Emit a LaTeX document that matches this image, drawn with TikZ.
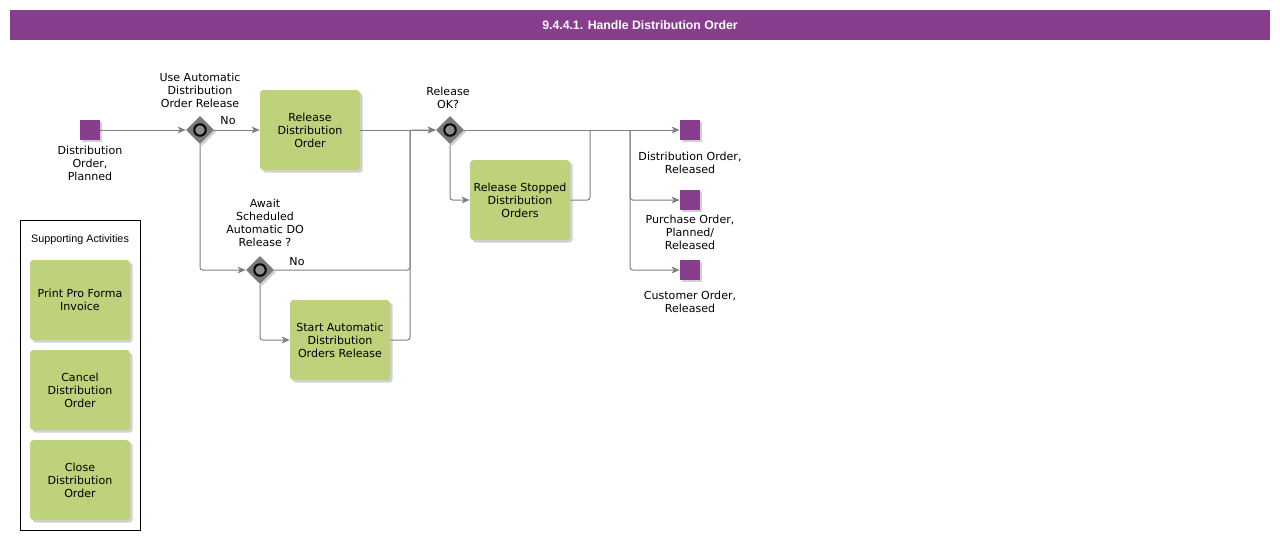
\documentclass[tikz,border=0pt]{standalone}
\usepackage{fontspec}
\setmainfont{DejaVu Sans}
\newfontfamily\arialfont{Liberation Sans}
\usetikzlibrary{shapes.geometric,arrows.meta,shadows}

\definecolor{bpmpurple}{HTML}{873F8D}
\definecolor{taskgreen}{HTML}{BDD27A}
\definecolor{flowgray}{HTML}{7F7F7F}
\definecolor{gategray}{HTML}{7A7A7A}

\tikzstyle{task} = [rectangle, rounded corners=2.5pt, fill=taskgreen, minimum width=75pt, minimum height=60pt, inner sep=0pt, align=center, font=\fontsize{8.3}{9.75}\selectfont, drop shadow={shadow xshift=2pt, shadow yshift=-2pt, fill=black!30, opacity=0.6}]
\tikzstyle{event} = [rectangle, fill=bpmpurple, minimum size=15pt, inner sep=0pt, drop shadow={shadow xshift=1.5pt, shadow yshift=-1.5pt, fill=black!30, opacity=0.6}]
\tikzstyle{gateway} = [diamond, fill=gategray, minimum width=21pt, minimum height=21pt, inner sep=0pt, drop shadow={shadow xshift=1.5pt, shadow yshift=-1.5pt, fill=black!30, opacity=0.6}, path picture={\draw[line width=1.5pt, fill=gategray!85] (path picture bounding box.center) circle (4.3pt);}]
\tikzstyle{lbl} = [align=center, inner sep=0pt, font=\fontsize{8.3}{9.75}\selectfont]
\tikzstyle{flow} = [draw=flowgray, line width=0.75pt, rounded corners=2pt, -{Stealth[length=6pt, width=5pt, inset=1.5pt]}]
\tikzstyle{link} = [draw=flowgray, line width=0.75pt, rounded corners=2pt]

\begin{document}
\begin{tikzpicture}[x=0.75pt, y=-0.75pt]
  \useasboundingbox (0,0) rectangle (1280,540);

  % header
  \node[fill=bpmpurple, minimum width=945pt, minimum height=22.5pt, inner sep=0pt, text=white, font=\arialfont\bfseries\fontsize{9.2}{11}\selectfont] (title) at (640,25) {9.4.4.1. Handle Distribution Order};

  % events
  \node[event] (start) at (90,130) {};
  \node[event] (e1) at (690,130) {};
  \node[event] (e2) at (690,200) {};
  \node[event] (e3) at (690,270) {};

  \node[lbl] (startlbl) at (90,163) {Distribution\\Order,\\Planned};
  \node[lbl] (e1lbl) at (690,162.5) {Distribution Order,\\Released};
  \node[lbl] (e2lbl) at (690,232) {Purchase Order,\\Planned/\\Released};
  \node[lbl] (e3lbl) at (690,301.5) {Customer Order,\\Released};

  % gateways
  \node[gateway] (g1) at (200,130) {};
  \node[gateway] (g2) at (260,270) {};
  \node[gateway] (g3) at (450,130) {};

  \node[lbl] (g1lbl) at (200,90) {Use Automatic\\Distribution\\Order Release};
  \node[lbl] (g2lbl) at (265,222.5) {Await\\Scheduled\\Automatic DO\\Release ?};
  \node[lbl] (g3lbl) at (448,97.5) {Release\\OK?};

  % tasks
  \node[task] (rdo) at (310,130) {Release\\Distribution\\Order};
  \node[task] (sado) at (340,340) {Start Automatic\\Distribution\\Orders Release};
  \node[task] (rsdo) at (520,200) {Release Stopped\\Distribution\\Orders};

  \coordinate (j1) at (410,130);
  \coordinate (j2) at (590,130);
  \coordinate (j3) at (630,130);

  % flows
  \draw[flow] (start) -- (g1);
  \draw[flow] (g1) -- (rdo);
  \node[lbl] (no1) at (228,121) {No};
  \draw[flow] (g1.south) |- (g2.west);
  \draw[flow] (g2.east) -| (j1) -- (g3.west);
  \node[lbl] (no2) at (297,262) {No};
  \draw[flow] (g2.south) |- (sado.west);
  \draw[link] (sado.east) -| (j1);
  \draw[flow] (rdo) -- (g3);
  \draw[flow] (g3.south) |- (rsdo.west);
  \draw[link] (rsdo.east) -| (j2);
  \draw[flow] (g3) -- (e1);
  \draw[flow] (j3) |- (e2);
  \draw[flow] (j3) |- (e3);

  % supporting activities
  \node[draw=black, line width=0.75pt, minimum width=90pt, minimum height=232.5pt, inner sep=0pt] (support) at (80,375) {};
  \node[font=\arialfont\fontsize{8.1}{10}\selectfont] (supportlbl) at (80,240) {Supporting Activities};
  \node[task] (ppfi) at (80,300) {Print Pro Forma\\Invoice};
  \node[task] (cdo) at (80,390) {Cancel\\Distribution\\Order};
  \node[task] (cldo) at (80,480) {Close\\Distribution\\Order};
\end{tikzpicture}
\end{document}
